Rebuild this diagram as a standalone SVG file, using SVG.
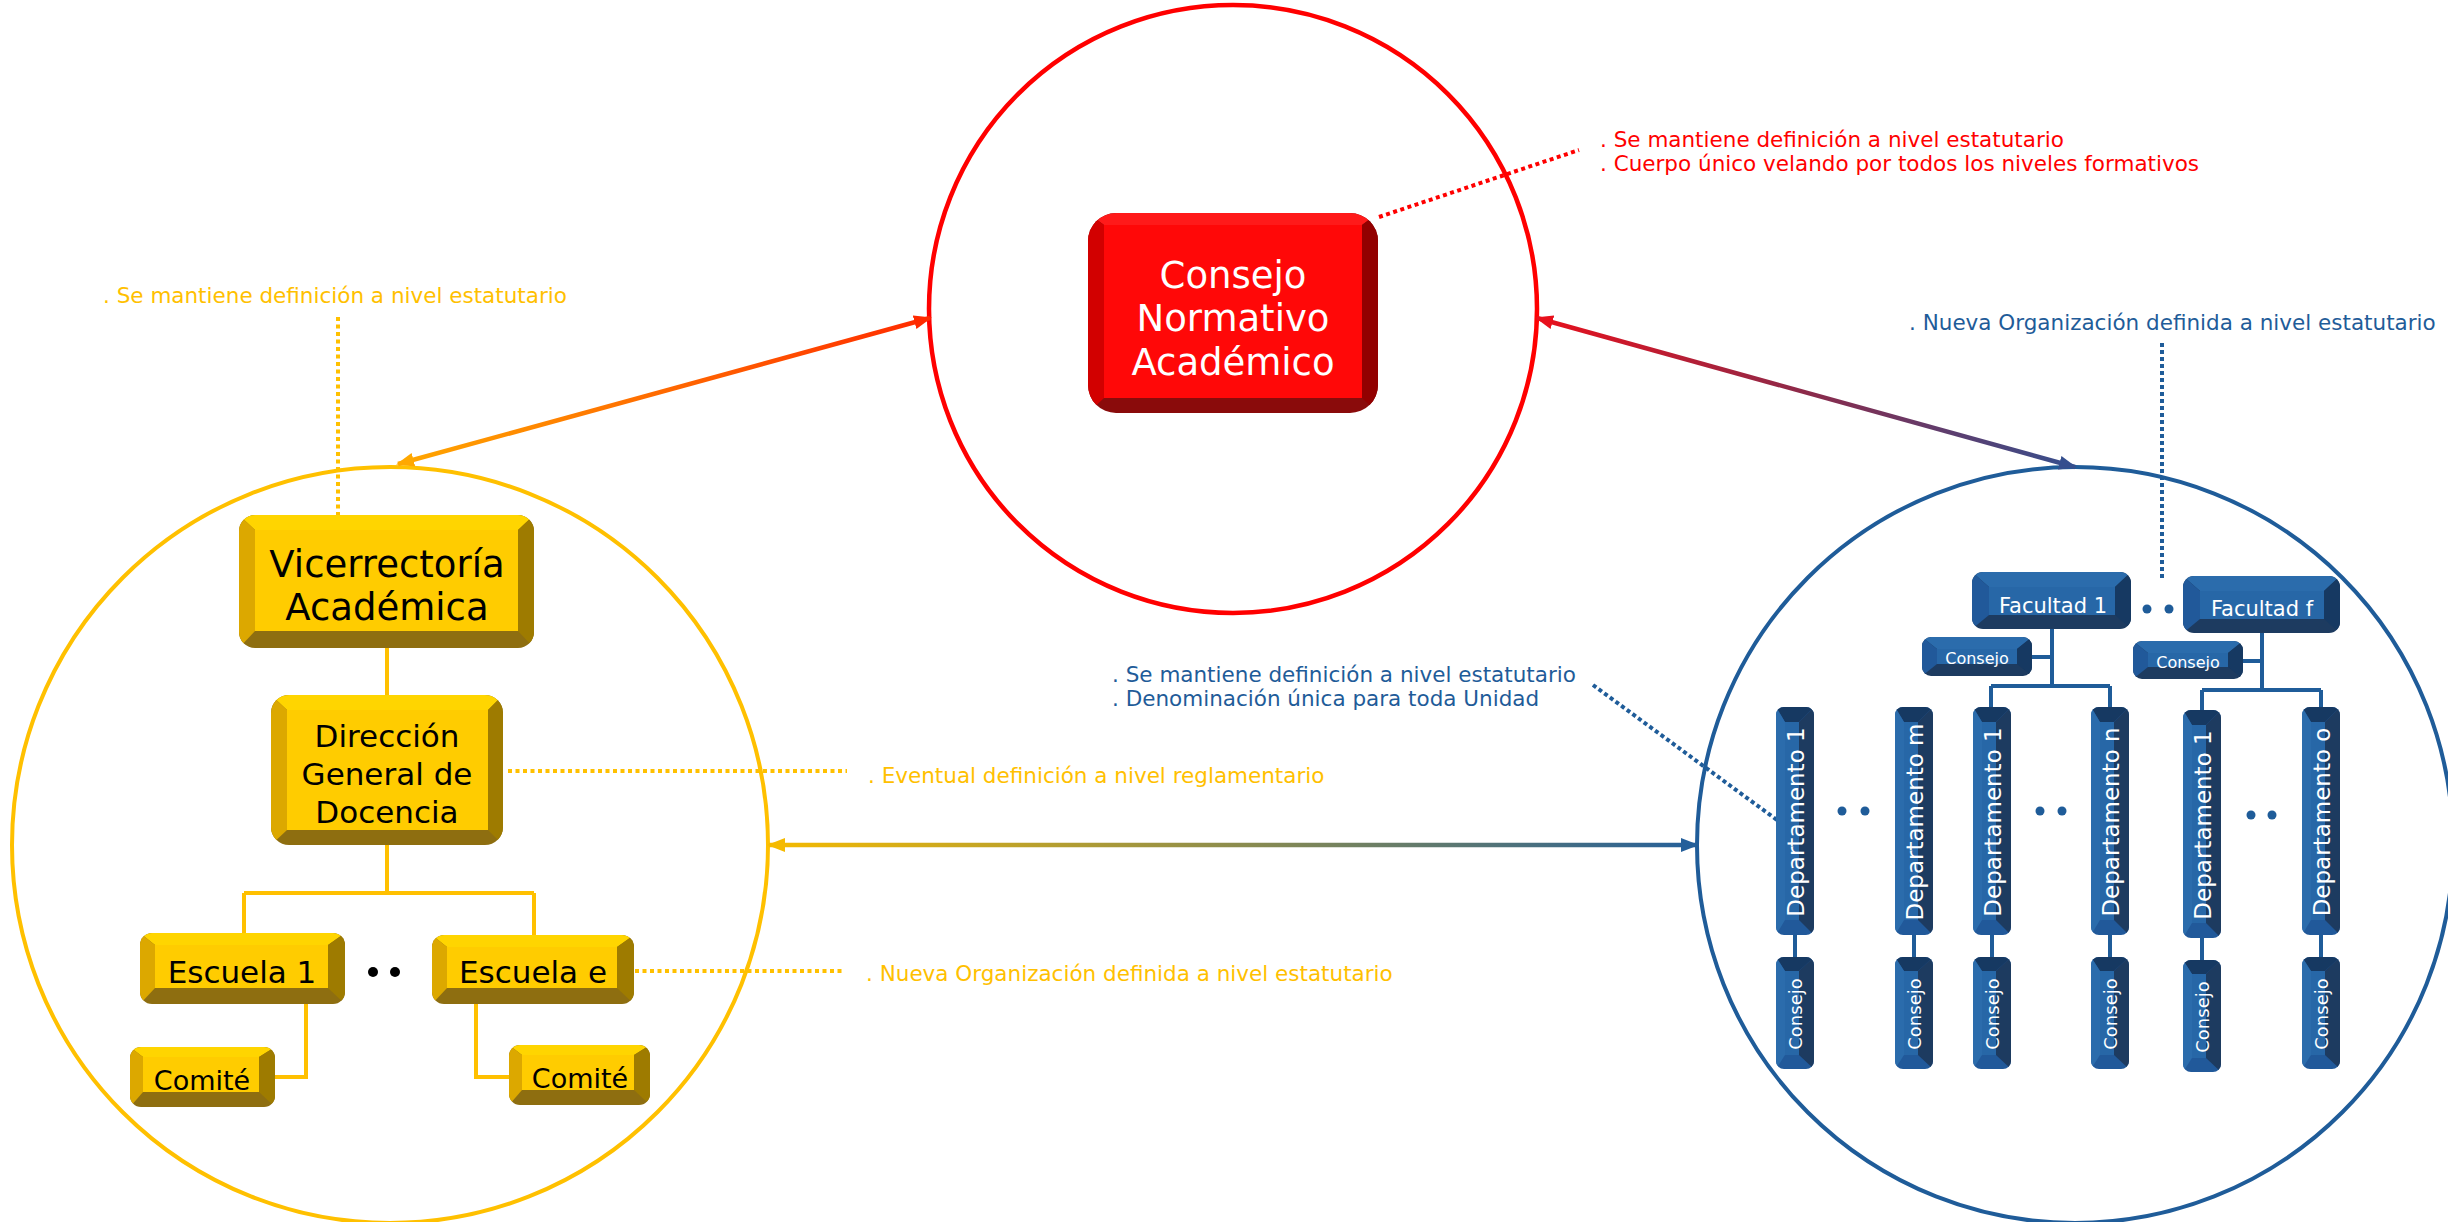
<svg xmlns="http://www.w3.org/2000/svg" width="2448" height="1222" viewBox="0 0 2448 1222">
<style>
text{font-family:"DejaVu Sans",Verdana,sans-serif}
.ann{font-size:21.5px}
.ay{fill:#FFC000}.ab{fill:#1F5C99}.ar{fill:#FF0000}
.lbl{text-anchor:middle}
.wt{fill:#FFFFFF}.bk{fill:#000000}
.dep{font-size:23px}.vc{font-size:18px}
.rT{fill:#FF1A1A}.rL{fill:#D20000}.rR{fill:#920000}.rB{fill:#8A0B0B}.rF{fill:#FF0808}
.yT{fill:#FFD500}.yL{fill:#DCA800}.yR{fill:#9E7B00}.yB{fill:#8E6E10}.yF{fill:#FFCC00}
.bT{fill:#2B6CAC}.bL{fill:#21599A}.bR{fill:#163962}.bB{fill:#1D3B60}.bF{fill:#2767A7}
.cy{stroke:#FFC000;stroke-width:4;fill:none}
.cb{stroke:#1F5C99;stroke-width:4;fill:none}
.dy{stroke:#FFC000;stroke-width:4;stroke-dasharray:4 3.5;fill:none}
.dr{stroke:#FF0000;stroke-width:4;stroke-dasharray:4 3.5;fill:none}
.db{stroke:#1F5C99;stroke-width:4;stroke-dasharray:4 3;fill:none}
</style>
<defs>
<linearGradient id="gOr" gradientUnits="userSpaceOnUse" x1="398" y1="464" x2="930" y2="318"><stop offset="0" stop-color="#FFA800"/><stop offset="1" stop-color="#FF2A00"/></linearGradient>
<linearGradient id="gRb" gradientUnits="userSpaceOnUse" x1="1537" y1="318" x2="2075" y2="467"><stop offset="0" stop-color="#E8101C"/><stop offset="0.5" stop-color="#8C2A4A"/><stop offset="1" stop-color="#354F8E"/></linearGradient>
<linearGradient id="gYb" gradientUnits="userSpaceOnUse" x1="769" y1="845" x2="1697" y2="845"><stop offset="0" stop-color="#F5BA00"/><stop offset="1" stop-color="#245F9A"/></linearGradient>
<marker id="mOrY" viewBox="0 0 18 14" markerWidth="18" markerHeight="14" refX="16" refY="7" orient="auto-start-reverse" markerUnits="userSpaceOnUse"><path d="M0,0 L18,7 L0,14 z" fill="#FFA800"/></marker>
<marker id="mOrR" viewBox="0 0 18 14" markerWidth="18" markerHeight="14" refX="16" refY="7" orient="auto-start-reverse" markerUnits="userSpaceOnUse"><path d="M0,0 L18,7 L0,14 z" fill="#FF2A00"/></marker>
<marker id="mRbR" viewBox="0 0 18 14" markerWidth="18" markerHeight="14" refX="16" refY="7" orient="auto-start-reverse" markerUnits="userSpaceOnUse"><path d="M0,0 L18,7 L0,14 z" fill="#E8101C"/></marker>
<marker id="mRbB" viewBox="0 0 18 14" markerWidth="18" markerHeight="14" refX="16" refY="7" orient="auto-start-reverse" markerUnits="userSpaceOnUse"><path d="M0,0 L18,7 L0,14 z" fill="#354F8E"/></marker>
<marker id="mYbY" viewBox="0 0 18 14" markerWidth="18" markerHeight="14" refX="16" refY="7" orient="auto-start-reverse" markerUnits="userSpaceOnUse"><path d="M0,0 L18,7 L0,14 z" fill="#F5BA00"/></marker>
<marker id="mYbB" viewBox="0 0 18 14" markerWidth="18" markerHeight="14" refX="16" refY="7" orient="auto-start-reverse" markerUnits="userSpaceOnUse"><path d="M0,0 L18,7 L0,14 z" fill="#245F9A"/></marker>
<clipPath id="kCNA"><rect x="1088" y="213" width="290" height="200" rx="28"/></clipPath>
<clipPath id="kVA"><rect x="239" y="515" width="295" height="133" rx="16"/></clipPath>
<clipPath id="kDG"><rect x="271" y="695" width="232" height="150" rx="18"/></clipPath>
<clipPath id="kE1"><rect x="140" y="933" width="205" height="71" rx="12"/></clipPath>
<clipPath id="kEe"><rect x="432" y="935" width="202" height="69" rx="12"/></clipPath>
<clipPath id="kC1"><rect x="130" y="1047" width="145" height="60" rx="11"/></clipPath>
<clipPath id="kC2"><rect x="509" y="1045" width="141" height="60" rx="11"/></clipPath>
<clipPath id="kF1"><rect x="1972" y="572" width="159" height="57" rx="11"/></clipPath>
<clipPath id="kFf"><rect x="2183" y="576" width="157" height="57" rx="11"/></clipPath>
<clipPath id="kK1"><rect x="1922" y="637" width="110" height="39" rx="9"/></clipPath>
<clipPath id="kKf"><rect x="2133" y="641" width="110" height="38" rx="9"/></clipPath>
<clipPath id="kD1"><rect x="1776" y="707" width="38" height="228" rx="8"/></clipPath>
<clipPath id="kD2"><rect x="1895" y="707" width="38" height="228" rx="8"/></clipPath>
<clipPath id="kD3"><rect x="1973" y="707" width="38" height="228" rx="8"/></clipPath>
<clipPath id="kD4"><rect x="2091" y="707" width="38" height="228" rx="8"/></clipPath>
<clipPath id="kD5"><rect x="2183" y="710" width="38" height="228" rx="8"/></clipPath>
<clipPath id="kD6"><rect x="2302" y="707" width="38" height="228" rx="8"/></clipPath>
<clipPath id="kV1"><rect x="1776" y="957" width="38" height="112" rx="8"/></clipPath>
<clipPath id="kV2"><rect x="1895" y="957" width="38" height="112" rx="8"/></clipPath>
<clipPath id="kV3"><rect x="1973" y="957" width="38" height="112" rx="8"/></clipPath>
<clipPath id="kV4"><rect x="2091" y="957" width="38" height="112" rx="8"/></clipPath>
<clipPath id="kV5"><rect x="2183" y="960" width="38" height="112" rx="8"/></clipPath>
<clipPath id="kV6"><rect x="2302" y="957" width="38" height="112" rx="8"/></clipPath>
</defs>
<rect x="0" y="0" width="2448" height="1222" fill="#FFFFFF"/>

<g id="circles" fill="none">
<circle cx="1233" cy="309" r="304" stroke="#FF0000" stroke-width="4.5"/>
<circle cx="390" cy="845" r="378" stroke="#FFC000" stroke-width="4"/>
<circle cx="2075" cy="845" r="378" stroke="#1F5C99" stroke-width="4"/>
</g>

<g id="connectors">
<line x1="398" y1="464" x2="930" y2="318" stroke="url(#gOr)" stroke-width="4.5" marker-start="url(#mOrY)" marker-end="url(#mOrR)"/>
<line x1="1537" y1="318" x2="2075" y2="467" stroke="url(#gRb)" stroke-width="4.5" marker-start="url(#mRbR)" marker-end="url(#mRbB)"/>
<line x1="769" y1="845" x2="1697" y2="845" stroke="url(#gYb)" stroke-width="4.5" marker-start="url(#mYbY)" marker-end="url(#mYbB)"/>
<path class="cy" d="M387,648 V695 M387,845 V893 M244,893 H534 M244,893 V933 M534,893 V935 M306,1004 V1077 H275 M476,1004 V1077 H509"/>
<path class="cb" d="M2052,629 V686 M2032,657 H2052 M1991,686 H2110 M1991,686 V707 M2110,686 V707 M2262,633 V690 M2243,661 H2262 M2202,690 H2321 M2202,690 V710 M2321,690 V707"/>
<path class="cb" d="M1795,935 V957 M1914,935 V957 M1992,935 V957 M2110,935 V957 M2202,938 V960 M2321,935 V957"/>
<path class="dy" d="M338,317 V515 M508,771 H847 M635,971 H844"/>
<path class="dr" d="M1379,217 L1579,150"/>
<path class="db" d="M1593,685 L1777,820 M2162,343 V578"/>
</g>

<g id="n-consejo-normativo">
<g clip-path="url(#kCNA)">
<rect class="rB" x="1088" y="213" width="290" height="200"/>
<polygon class="rT" points="1088,213 1378,213 1362,225 1104,225"/>
<polygon class="rL" points="1088,213 1104,225 1104,398 1088,413"/>
<polygon class="rR" points="1378,213 1378,413 1362,398 1362,225"/>
<rect class="rF" x="1104" y="225" width="258" height="173"/>
</g>
<text class="lbl wt" font-size="37" x="1233" y="288">Consejo</text>
<text class="lbl wt" font-size="37" x="1233" y="331">Normativo</text>
<text class="lbl wt" font-size="37" x="1233" y="375">Académico</text>
</g>

<g id="n-vicerrectoria">
<g clip-path="url(#kVA)">
<rect class="yB" x="239" y="515" width="295" height="133"/>
<polygon class="yT" points="239,515 534,515 518,530 255,530"/>
<polygon class="yL" points="239,515 255,530 255,631 239,648"/>
<polygon class="yR" points="534,515 534,648 518,631 518,530"/>
<rect class="yF" x="255" y="530" width="263" height="101"/>
</g>
<text class="lbl bk" font-size="37" x="387" y="577">Vicerrectoría</text>
<text class="lbl bk" font-size="37" x="387" y="620">Académica</text>
</g>

<g id="n-direccion">
<g clip-path="url(#kDG)">
<rect class="yB" x="271" y="695" width="232" height="150"/>
<polygon class="yT" points="271,695 503,695 488,710 287,710"/>
<polygon class="yL" points="271,695 287,710 287,830 271,845"/>
<polygon class="yR" points="503,695 503,845 488,830 488,710"/>
<rect class="yF" x="287" y="710" width="201" height="120"/>
</g>
<text class="lbl bk" font-size="31" x="387" y="747">Dirección</text>
<text class="lbl bk" font-size="31" x="387" y="785">General de</text>
<text class="lbl bk" font-size="31" x="387" y="823">Docencia</text>
</g>

<g id="n-escuela-1">
<g clip-path="url(#kE1)">
<rect class="yB" x="140" y="933" width="205" height="71"/>
<polygon class="yT" points="140,933 345,933 328,945 155,945"/>
<polygon class="yL" points="140,933 155,945 155,988 140,1004"/>
<polygon class="yR" points="345,933 345,1004 328,988 328,945"/>
<rect class="yF" x="155" y="945" width="173" height="43"/>
</g>
<text class="lbl bk" font-size="31" x="242" y="983">Escuela 1</text>
</g>

<g id="n-escuela-e">
<g clip-path="url(#kEe)">
<rect class="yB" x="432" y="935" width="202" height="69"/>
<polygon class="yT" points="432,935 634,935 617,947 447,947"/>
<polygon class="yL" points="432,935 447,947 447,988 432,1004"/>
<polygon class="yR" points="634,935 634,1004 617,988 617,947"/>
<rect class="yF" x="447" y="947" width="170" height="41"/>
</g>
<text class="lbl bk" font-size="31" x="533" y="983">Escuela e</text>
</g>

<g id="n-escuela-dots" fill="#000000">
<circle cx="373" cy="972" r="5"/>
<circle cx="395" cy="972" r="5"/>
</g>

<g id="n-comite-1">
<g clip-path="url(#kC1)">
<rect class="yB" x="130" y="1047" width="145" height="60"/>
<polygon class="yT" points="130,1047 275,1047 259,1057 143,1057"/>
<polygon class="yL" points="130,1047 143,1057 143,1092 130,1107"/>
<polygon class="yR" points="275,1047 275,1107 259,1092 259,1057"/>
<rect class="yF" x="143" y="1057" width="116" height="35"/>
</g>
<text class="lbl bk" font-size="27" x="202" y="1090">Comité</text>
</g>

<g id="n-comite-e">
<g clip-path="url(#kC2)">
<rect class="yB" x="509" y="1045" width="141" height="60"/>
<polygon class="yT" points="509,1045 650,1045 634,1055 522,1055"/>
<polygon class="yL" points="509,1045 522,1055 522,1090 509,1105"/>
<polygon class="yR" points="650,1045 650,1105 634,1090 634,1055"/>
<rect class="yF" x="522" y="1055" width="112" height="35"/>
</g>
<text class="lbl bk" font-size="27" x="580" y="1088">Comité</text>
</g>

<g id="n-facultad-1">
<g clip-path="url(#kF1)">
<rect class="bB" x="1972" y="572" width="159" height="57"/>
<polygon class="bT" points="1972,572 2131,572 2115,587 1989,587"/>
<polygon class="bL" points="1972,572 1989,587 1989,615 1972,629"/>
<polygon class="bR" points="2131,572 2131,629 2115,615 2115,587"/>
<rect class="bF" x="1989" y="587" width="126" height="28"/>
</g>
<text class="lbl wt" font-size="21" x="2053" y="613">Facultad 1</text>
</g>

<g id="n-facultad-f">
<g clip-path="url(#kFf)">
<rect class="bB" x="2183" y="576" width="157" height="57"/>
<polygon class="bT" points="2183,576 2340,576 2324,591 2200,591"/>
<polygon class="bL" points="2183,576 2200,591 2200,619 2183,633"/>
<polygon class="bR" points="2340,576 2340,633 2324,619 2324,591"/>
<rect class="bF" x="2200" y="591" width="124" height="28"/>
</g>
<text class="lbl wt" font-size="21" x="2262" y="616">Facultad f</text>
</g>

<g id="n-facultad-dots" fill="#1F5C99">
<circle cx="2147" cy="609" r="4.5"/><circle cx="2169" cy="609" r="4.5"/>
<circle cx="1842" cy="811" r="4.5"/><circle cx="1865" cy="811" r="4.5"/>
<circle cx="2040" cy="811" r="4.5"/><circle cx="2062" cy="811" r="4.5"/>
<circle cx="2251" cy="815" r="4.5"/><circle cx="2272" cy="815" r="4.5"/>
</g>

<g id="n-consejo-f1">
<g clip-path="url(#kK1)">
<rect class="bB" x="1922" y="637" width="110" height="39"/>
<polygon class="bT" points="1922,637 2032,637 2017,649 1937,649"/>
<polygon class="bL" points="1922,637 1937,649 1937,664 1922,676"/>
<polygon class="bR" points="2032,637 2032,676 2017,664 2017,649"/>
<rect class="bF" x="1937" y="649" width="80" height="15"/>
</g>
<text class="lbl wt" font-size="16" x="1977" y="664">Consejo</text>
</g>

<g id="n-consejo-ff">
<g clip-path="url(#kKf)">
<rect class="bB" x="2133" y="641" width="110" height="38"/>
<polygon class="bT" points="2133,641 2243,641 2228,653 2148,653"/>
<polygon class="bL" points="2133,641 2148,653 2148,667 2133,679"/>
<polygon class="bR" points="2243,641 2243,679 2228,667 2228,653"/>
<rect class="bF" x="2148" y="653" width="80" height="14"/>
</g>
<text class="lbl wt" font-size="16" x="2188" y="668">Consejo</text>
</g>

<g id="n-dep-1a">
<g clip-path="url(#kD1)">
<rect class="bL" x="1776" y="707" width="38" height="228"/>
<polygon class="bR" points="1776,707 1814,707 1799,722 1785,722"/>
<polygon class="bT" points="1776,707 1785,722 1785,920 1776,935"/>
<polygon class="bB" points="1814,707 1814,935 1799,920 1799,722"/>
<rect class="bF" x="1785" y="722" width="14" height="198"/>
</g>
<text class="lbl wt dep" transform="translate(1804,822) rotate(-90)">Departamento 1</text>
</g>

<g id="n-dep-m">
<g clip-path="url(#kD2)">
<rect class="bL" x="1895" y="707" width="38" height="228"/>
<polygon class="bR" points="1895,707 1933,707 1918,722 1904,722"/>
<polygon class="bT" points="1895,707 1904,722 1904,920 1895,935"/>
<polygon class="bB" points="1933,707 1933,935 1918,920 1918,722"/>
<rect class="bF" x="1904" y="722" width="14" height="198"/>
</g>
<text class="lbl wt dep" transform="translate(1923,822) rotate(-90)">Departamento m</text>
</g>

<g id="n-dep-1b">
<g clip-path="url(#kD3)">
<rect class="bL" x="1973" y="707" width="38" height="228"/>
<polygon class="bR" points="1973,707 2011,707 1996,722 1982,722"/>
<polygon class="bT" points="1973,707 1982,722 1982,920 1973,935"/>
<polygon class="bB" points="2011,707 2011,935 1996,920 1996,722"/>
<rect class="bF" x="1982" y="722" width="14" height="198"/>
</g>
<text class="lbl wt dep" transform="translate(2001,822) rotate(-90)">Departamento 1</text>
</g>

<g id="n-dep-n">
<g clip-path="url(#kD4)">
<rect class="bL" x="2091" y="707" width="38" height="228"/>
<polygon class="bR" points="2091,707 2129,707 2114,722 2100,722"/>
<polygon class="bT" points="2091,707 2100,722 2100,920 2091,935"/>
<polygon class="bB" points="2129,707 2129,935 2114,920 2114,722"/>
<rect class="bF" x="2100" y="722" width="14" height="198"/>
</g>
<text class="lbl wt dep" transform="translate(2119,822) rotate(-90)">Departamento n</text>
</g>

<g id="n-dep-1c">
<g clip-path="url(#kD5)">
<rect class="bL" x="2183" y="710" width="38" height="228"/>
<polygon class="bR" points="2183,710 2221,710 2206,725 2192,725"/>
<polygon class="bT" points="2183,710 2192,725 2192,923 2183,938"/>
<polygon class="bB" points="2221,710 2221,938 2206,923 2206,725"/>
<rect class="bF" x="2192" y="725" width="14" height="198"/>
</g>
<text class="lbl wt dep" transform="translate(2211,825) rotate(-90)">Departamento 1</text>
</g>

<g id="n-dep-o">
<g clip-path="url(#kD6)">
<rect class="bL" x="2302" y="707" width="38" height="228"/>
<polygon class="bR" points="2302,707 2340,707 2325,722 2311,722"/>
<polygon class="bT" points="2302,707 2311,722 2311,920 2302,935"/>
<polygon class="bB" points="2340,707 2340,935 2325,920 2325,722"/>
<rect class="bF" x="2311" y="722" width="14" height="198"/>
</g>
<text class="lbl wt dep" transform="translate(2330,822) rotate(-90)">Departamento o</text>
</g>

<g id="n-consejo-d1">
<g clip-path="url(#kV1)">
<rect class="bL" x="1776" y="957" width="38" height="112"/>
<polygon class="bR" points="1776,957 1814,957 1799,971 1785,971"/>
<polygon class="bT" points="1776,957 1785,971 1785,1055 1776,1069"/>
<polygon class="bB" points="1814,957 1814,1069 1799,1055 1799,971"/>
<rect class="bF" x="1785" y="971" width="14" height="84"/>
</g>
<text class="lbl wt vc" transform="translate(1802,1014) rotate(-90)">Consejo</text>
</g>

<g id="n-consejo-d2">
<g clip-path="url(#kV2)">
<rect class="bL" x="1895" y="957" width="38" height="112"/>
<polygon class="bR" points="1895,957 1933,957 1918,971 1904,971"/>
<polygon class="bT" points="1895,957 1904,971 1904,1055 1895,1069"/>
<polygon class="bB" points="1933,957 1933,1069 1918,1055 1918,971"/>
<rect class="bF" x="1904" y="971" width="14" height="84"/>
</g>
<text class="lbl wt vc" transform="translate(1921,1014) rotate(-90)">Consejo</text>
</g>

<g id="n-consejo-d3">
<g clip-path="url(#kV3)">
<rect class="bL" x="1973" y="957" width="38" height="112"/>
<polygon class="bR" points="1973,957 2011,957 1996,971 1982,971"/>
<polygon class="bT" points="1973,957 1982,971 1982,1055 1973,1069"/>
<polygon class="bB" points="2011,957 2011,1069 1996,1055 1996,971"/>
<rect class="bF" x="1982" y="971" width="14" height="84"/>
</g>
<text class="lbl wt vc" transform="translate(1999,1014) rotate(-90)">Consejo</text>
</g>

<g id="n-consejo-d4">
<g clip-path="url(#kV4)">
<rect class="bL" x="2091" y="957" width="38" height="112"/>
<polygon class="bR" points="2091,957 2129,957 2114,971 2100,971"/>
<polygon class="bT" points="2091,957 2100,971 2100,1055 2091,1069"/>
<polygon class="bB" points="2129,957 2129,1069 2114,1055 2114,971"/>
<rect class="bF" x="2100" y="971" width="14" height="84"/>
</g>
<text class="lbl wt vc" transform="translate(2117,1014) rotate(-90)">Consejo</text>
</g>

<g id="n-consejo-d5">
<g clip-path="url(#kV5)">
<rect class="bL" x="2183" y="960" width="38" height="112"/>
<polygon class="bR" points="2183,960 2221,960 2206,974 2192,974"/>
<polygon class="bT" points="2183,960 2192,974 2192,1058 2183,1072"/>
<polygon class="bB" points="2221,960 2221,1072 2206,1058 2206,974"/>
<rect class="bF" x="2192" y="974" width="14" height="84"/>
</g>
<text class="lbl wt vc" transform="translate(2209,1017) rotate(-90)">Consejo</text>
</g>

<g id="n-consejo-d6">
<g clip-path="url(#kV6)">
<rect class="bL" x="2302" y="957" width="38" height="112"/>
<polygon class="bR" points="2302,957 2340,957 2325,971 2311,971"/>
<polygon class="bT" points="2302,957 2311,971 2311,1055 2302,1069"/>
<polygon class="bB" points="2340,957 2340,1069 2325,1055 2325,971"/>
<rect class="bF" x="2311" y="971" width="14" height="84"/>
</g>
<text class="lbl wt vc" transform="translate(2328,1014) rotate(-90)">Consejo</text>
</g>

<g id="annotations" class="ann">
<text class="ar" x="1600" y="147">. Se mantiene definición a nivel estatutario</text>
<text class="ar" x="1600" y="171">. Cuerpo único velando por todos los niveles formativos</text>
<text class="ay" x="103" y="303">. Se mantiene definición a nivel estatutario</text>
<text class="ay" x="868" y="783">. Eventual definición a nivel reglamentario</text>
<text class="ay" x="866" y="981">. Nueva Organización definida a nivel estatutario</text>
<text class="ab" x="1112" y="682">. Se mantiene definición a nivel estatutario</text>
<text class="ab" x="1112" y="706">. Denominación única para toda Unidad</text>
<text class="ab" x="1909" y="330">. Nueva Organización definida a nivel estatutario</text>
</g>
</svg>
